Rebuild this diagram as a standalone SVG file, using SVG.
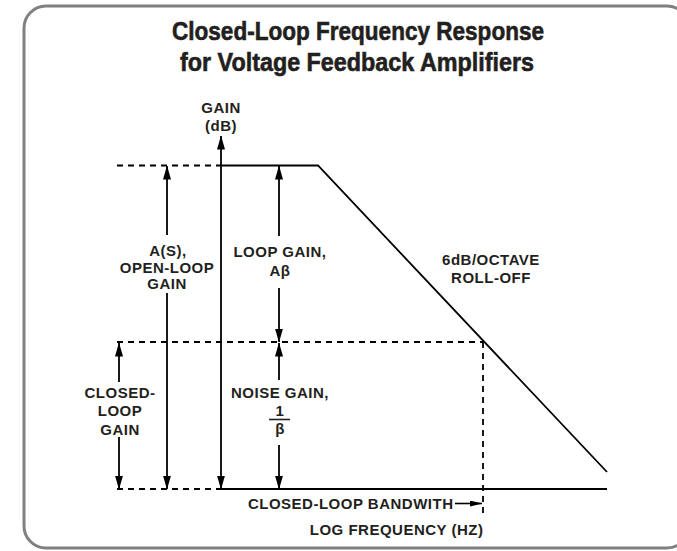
<svg xmlns="http://www.w3.org/2000/svg" width="677" height="551" viewBox="0 0 677 551">
<style>
.t{font-family:"Liberation Sans",Arial,Helvetica,sans-serif;font-weight:bold;font-size:15px;letter-spacing:0.5px;fill:#231f20;text-anchor:middle}
.te{text-anchor:end}
.title{font-family:"Liberation Sans",Arial,Helvetica,sans-serif;font-weight:bold;font-size:25px;fill:#231f20;stroke:#231f20;stroke-width:0.6;text-anchor:middle}
.s{stroke:#000;stroke-width:1.8;fill:none}
.d{stroke:#000;stroke-width:1.8;fill:none;stroke-dasharray:6 5}
.a{stroke:#000;stroke-width:1.8;fill:none;marker-end:url(#ah)}
.ab{stroke:#000;stroke-width:1.8;fill:none;marker-start:url(#ah);marker-end:url(#ah)}
.as{stroke:#000;stroke-width:1.6;fill:none;marker-end:url(#ahs)}
</style>
<defs>
<marker id="ah" markerUnits="userSpaceOnUse" viewBox="0 0 14 8" markerWidth="14" markerHeight="8" refX="13.5" refY="4" orient="auto-start-reverse"><path d="M0,0L14,4L0,8z" fill="#000"/></marker>
<marker id="ahs" markerUnits="userSpaceOnUse" viewBox="0 0 13 6" markerWidth="13" markerHeight="6" refX="12.5" refY="3" orient="auto"><path d="M0,0L13,3L0,6z" fill="#000"/></marker>
</defs>
<rect x="0" y="0" width="677" height="551" fill="#fff"/>
<g id="frame">
<rect x="24" y="6" width="665" height="542" rx="22" ry="22" fill="#fff" stroke="#808080" stroke-width="3"/>
</g>
<g id="title">
<text class="title" x="358" y="40" textLength="372" lengthAdjust="spacingAndGlyphs">Closed-Loop Frequency Response</text>
<text class="title" x="357" y="71" textLength="354" lengthAdjust="spacingAndGlyphs">for Voltage Feedback Amplifiers</text>
</g>
<g id="connectors">
<polyline class="s" points="221,165.5 318,165.5 607,472"/>
<line class="s" x1="221" y1="489" x2="607" y2="489"/>
<line class="d" x1="117" y1="165.5" x2="221" y2="165.5"/>
<line class="d" x1="117" y1="342" x2="484" y2="342"/>
<line class="d" x1="117" y1="489" x2="221" y2="489"/>
<line class="d" x1="483" y1="342" x2="483" y2="513"/>
<line class="ab" x1="221" y1="489" x2="221" y2="136"/>
<line class="a" x1="167" y1="235" x2="167" y2="166"/>
<line class="a" x1="167" y1="293" x2="167" y2="489"/>
<line class="a" x1="279" y1="236" x2="279" y2="166"/>
<line class="a" x1="279" y1="288" x2="279" y2="342"/>
<line class="a" x1="279" y1="380" x2="279" y2="343"/>
<line class="a" x1="279" y1="445" x2="279" y2="489"/>
<line class="a" x1="119" y1="382" x2="119" y2="343"/>
<line class="a" x1="119" y1="437" x2="119" y2="489"/>
<line class="as" x1="455" y1="503.5" x2="482" y2="503.5"/>
</g>
<g id="axis-label">
<text class="t" x="221" y="113">GAIN</text>
<text class="t" x="221" y="131">(dB)</text>
</g>
<g id="open-loop-gain">
<text class="t" x="168" y="256">A(S),</text>
<text class="t" x="167" y="272.5">OPEN-LOOP</text>
<text class="t" x="167" y="289">GAIN</text>
</g>
<g id="loop-gain">
<text class="t" x="280" y="257">LOOP GAIN,</text>
<text class="t" x="280" y="276">Aβ</text>
</g>
<g id="noise-gain">
<text class="t" x="280" y="398">NOISE GAIN,</text>
<text class="t" x="280" y="416">1</text>
<line x1="269" y1="419.5" x2="290" y2="419.5" stroke="#231f20" stroke-width="1.6"/>
<text class="t" x="280" y="434">β</text>
</g>
<g id="closed-loop-gain">
<text class="t" x="120" y="398">CLOSED-</text>
<text class="t" x="120" y="416">LOOP</text>
<text class="t" x="120" y="435">GAIN</text>
</g>
<g id="rolloff">
<text class="t" x="491" y="265">6dB/OCTAVE</text>
<text class="t" x="491" y="283">ROLL-OFF</text>
</g>
<g id="bandwidth">
<text class="t te" x="453.5" y="509">CLOSED-LOOP BANDWITH</text>
</g>
<g id="x-axis-label">
<text class="t te" x="483.5" y="535">LOG FREQUENCY (HZ)</text>
</g>
</svg>
